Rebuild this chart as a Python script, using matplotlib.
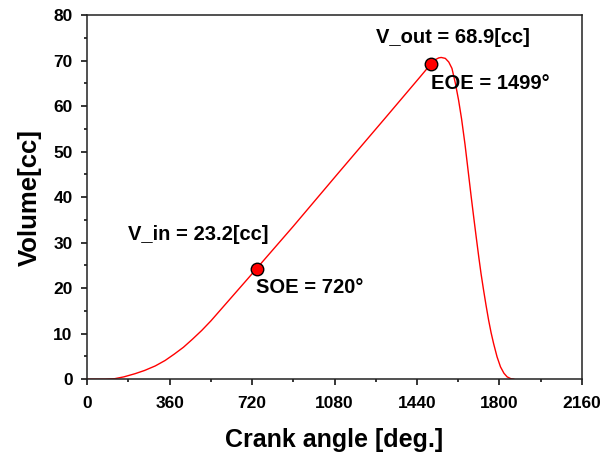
import matplotlib
matplotlib.use("Agg")
import matplotlib.pyplot as plt
from matplotlib.ticker import MultipleLocator

plt.rcParams['font.family'] = ['Liberation Sans', 'DejaVu Sans']
plt.rcParams['font.weight'] = 'bold'

# volume curve
crank = [0, 78, 120, 160, 209, 250, 297, 340, 380, 420, 460,
         500, 540, 580, 620, 660, 700, 743,
         900, 1100, 1300, 1455, 1500, 1520, 1535, 1546, 1564, 1579,
         1593, 1608, 1622, 1635, 1650, 1666, 1677, 1688, 1699, 1710,
         1720, 1731, 1742, 1753, 1764, 1775, 1790, 1805, 1820, 1834,
         1850, 1863]
volume = [0, 0, 0.1, 0.5, 1.2, 1.9, 2.9, 4.1, 5.5, 7.0, 8.8,
          10.7, 12.8, 15.1, 17.4, 19.7, 22.0, 24.5,
          33.6, 45.5, 57.3, 66.5, 69.2, 70.2, 70.6, 70.7, 70.5, 69.7,
          68.3, 65.0, 61.3, 57.2, 51.6, 44.8, 40.1, 35.6, 31.2, 26.9,
          23.2, 19.6, 16.2, 13.0, 10.2, 7.8, 4.9, 2.7, 1.3, 0.5,
          0.1, 0]

# SOE / EOE markers
pt_x = [743, 1500]
pt_y = [24.3, 69.2]

fig = plt.figure(figsize=(6.06, 4.59), dpi=100)
ax = fig.add_axes([0.144, 0.174, 0.816, 0.793])

ax.plot(crank, volume, color='red', lw=1.0)
ax.plot(pt_x, pt_y, 'o', ms=9, mfc='red', mec='black', mew=1.0)

ax.text(179, 31.8, 'V_in = 23.2[cc]', fontsize=14.5, va='center')
ax.text(738, 20.2, 'SOE = 720°', fontsize=14.5, va='center')
ax.text(1262, 75, 'V_out = 68.9[cc]', fontsize=14.5, va='center')
ax.text(1503, 64.9, 'EOE = 1499°', fontsize=14.5, va='center')

ax.set_xlim(0, 2160)
ax.set_ylim(0, 80)
ax.xaxis.set_major_locator(MultipleLocator(360))
ax.xaxis.set_minor_locator(MultipleLocator(180))
ax.yaxis.set_major_locator(MultipleLocator(10))
ax.yaxis.set_minor_locator(MultipleLocator(5))
ax.tick_params(which='both', direction='out', top=False, right=False, width=1.1)
ax.tick_params(which='major', length=4.5, labelsize=12.5, pad=6)
ax.tick_params(axis='x', which='major', pad=8)
ax.tick_params(which='minor', length=2.5)
for s in ax.spines.values():
    s.set_linewidth(1.1)
    s.set_color('#222222')

ax.set_xlabel('Crank angle [deg.]', fontsize=18, fontweight='bold', labelpad=12)
ax.set_ylabel('Volume[cc]', fontsize=18.5, fontweight='bold', labelpad=8)

fig.savefig('out.png', dpi=100)
